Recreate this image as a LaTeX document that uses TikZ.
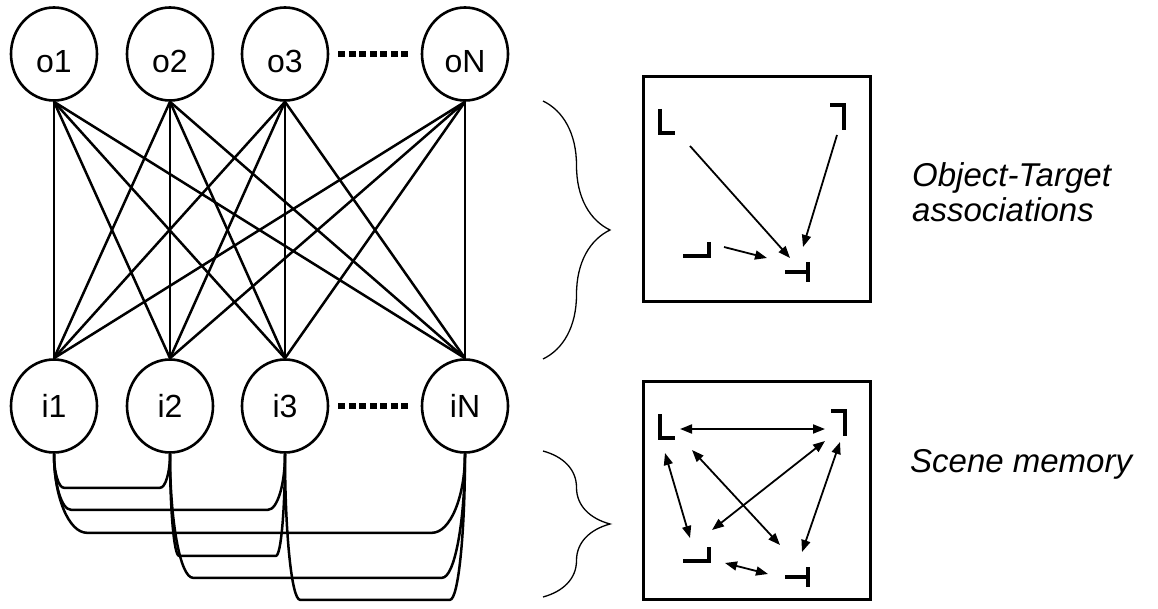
\documentclass[tikz,border=0pt]{standalone}
\usepackage{fontspec}
\setmainfont{Liberation Sans}
\usetikzlibrary{shapes.geometric,arrows.meta,decorations.pathreplacing,calc}

\begin{document}
\begin{tikzpicture}[x=1pt, y=-1pt,
  unit/.style={draw, ellipse, line width=2.6pt, minimum width=86pt, minimum height=93pt, inner sep=0pt, font=\fontsize{32}{32}\selectfont},
  obj/.style={unit, text height=37pt, text depth=0pt},
  wire/.style={line width=2.5pt},
  loopline/.style={line width=2.5pt},
  gap/.style={line width=6pt, dash pattern=on 7pt off 3.5pt, shorten <=9pt, shorten >=12pt},
  panel/.style={draw, line width=3pt, minimum width=227pt, inner sep=0pt},
  sign/.style={line width=4pt},
  arr/.style={line width=1.8pt, -{Triangle[length=12pt,width=9pt]}},
  darr/.style={line width=1.8pt, {Triangle[length=12pt,width=9pt]}-{Triangle[length=12pt,width=9pt]}},
  brc/.style={line width=1.3pt, decorate, decoration={brace, amplitude=67pt}},
  note/.style={anchor=base west, inner sep=0pt, font=\fontsize{33}{35}\selectfont\itshape}]
\useasboundingbox (0,0) rectangle (1158,609);

\node[obj] (o1) at (54,54) {o1};
\node[obj] (o2) at (170,54) {o2};
\node[obj] (o3) at (285,54) {o3};
\node[obj] (oN) at (465,54) {oN};
\node[unit] (i1) at (54,406) {i1};
\node[unit] (i2) at (170,406) {i2};
\node[unit] (i3) at (285,406) {i3};
\node[unit] (iN) at (465,406) {iN};

\foreach \a in {o1,o2,o3,oN}
  \foreach \b in {i1,i2,i3,iN}
    \draw[wire] (\a.south) -- (\b.north);

\draw[gap] (o3) -- (oN);
\draw[gap] (i3) -- (iN);

\foreach \a/\b/\h/\d in {i1/i2/34/10, i1/i3/56/17, i1/iN/79/33, i2/i3/102/9, i2/iN/124/23, i3/iN/146/15}
  \draw[loopline] (\a.south) .. controls +(0,.55*\h) and +(-.55*\d,0) .. ($(\a.south)+(\d,\h)$)
    -- ($(\b.south)+(-\d,\h)$) .. controls +(.55*\d,0) and +(0,.55*\h) .. (\b.south);

\draw[brc] (543,101) -- (543,359);
\draw[brc] (543,451) -- (543,597);

\node[panel, minimum height=225pt] (assoc) at (756.5,189.5) {};
\node[panel, minimum height=218pt] (scene) at (756.5,490) {};

\coordinate (aL) at (660,133);
\coordinate (aR) at (844,105);
\coordinate (aJ) at (709,256);
\coordinate (aT) at (808,272);
\coordinate (sL) at (660,438);
\coordinate (sR) at (845,411);
\coordinate (sJ) at (709,561);
\coordinate (sT) at (808,577);

\foreach \p in {a,s}{
  \draw[sign] ($(\p L)+(0,-24)$) -- (\p L) -- ++(15,0);
  \draw[sign] ($(\p R)+(-14,0)$) -- (\p R) -- ++(0,25);
  \draw[sign] ($(\p J)+(0,-14)$) -- (\p J) -- ++(-26,0);
  \draw[sign] ($(\p T)+(-23,0)$) -- (\p T) ($(\p T)+(0,-10)$) -- ++(0,20);
}

\draw[arr] ($(aL)+(30,13)$) -- ($(aT)+(-18,-14)$);
\draw[arr] ($(aR)+(-7,30)$) -- ($(aT)+(-5,-25)$);
\draw[arr] ($(aJ)+(15,-9)$) -- ($(aT)+(-41,-14)$);

\draw[darr] ($(sL)+(20,-9)$) -- ($(sR)+(-20,18)$);
\draw[darr] ($(sL)+(5,15)$) -- ($(sJ)+(-19,-23)$);
\draw[darr] ($(sL)+(32,12)$) -- ($(sT)+(-28,-32)$);
\draw[darr] ($(sR)+(-20,30)$) -- ($(sJ)+(3,-31)$);
\draw[darr] ($(sR)+(-5,31)$) -- ($(sT)+(-6,-25)$);
\draw[darr] ($(sJ)+(16,2)$) -- ($(sT)+(-40,-3)$);

\node[note] (ot1) at (912,187) {Object-Target};
\node[note] (ot2) at (912,222) {associations};
\node[note] (sm) at (910,472) {Scene memory};
\end{tikzpicture}
\end{document}
